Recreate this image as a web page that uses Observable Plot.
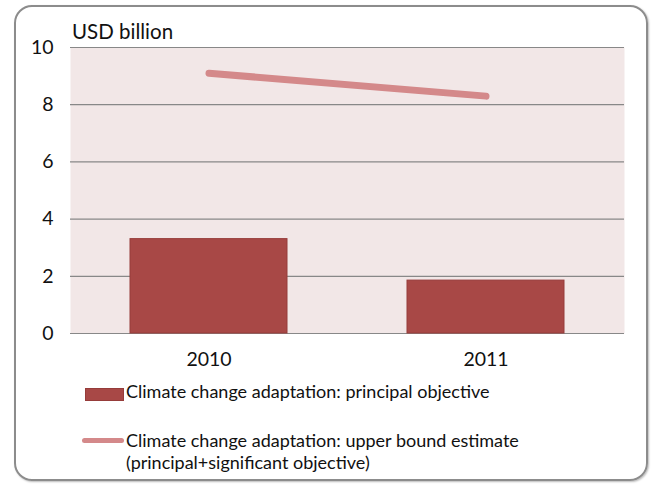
<!DOCTYPE html>
<html><head><meta charset="utf-8">
<script src="https://cdn.jsdelivr.net/npm/d3@7"></script>
<script src="https://cdn.jsdelivr.net/npm/@observablehq/plot@0.6"></script>
<style>
html,body{margin:0;padding:0;background:#fff;}
#wrap{position:relative;width:657px;height:486px;font-family:Lato,"Open Sans",sans-serif;color:#111;}
#frame{position:absolute;left:14px;top:5px;width:634px;height:476px;border:2.5px solid #8c8c8c;border-radius:18px;box-sizing:border-box;box-shadow:1px 1px 2px #bbb;}
#chart{position:absolute;left:0;top:0;}
#unit{position:absolute;left:72px;top:18px;font-size:20.5px;line-height:26px;}
.leg{position:absolute;font-size:18px;line-height:22px;white-space:nowrap;}
.sw{position:absolute;}
</style></head>
<body><div id="wrap"><div id="frame"></div><div id="chart"></div><div id="unit">USD billion</div>
<div class="sw" style="left:85px;top:388px;width:37px;height:11px;background:#a84846;border:1px solid #963c3a;"></div>
<div class="leg" style="left:126px;top:380px;">Climate change adaptation: principal objective</div>
<div class="sw" style="left:82px;top:438px;width:42px;height:5px;background:#d4898a;border-radius:3px;"></div>
<div class="leg" style="left:126px;top:429px;">Climate change adaptation: upper bound estimate<br>(principal+significant objective)</div>
</div>
<script>
const years = ["2010", "2011"];
const principal = [3.3, 1.85];
const upperBound = [9.1, 8.3];
const yTicks = [0, 2, 4, 6, 8, 10];

const bars = years.map((y, i) => ({year: y, value: principal[i]}));
const line = years.map((y, i) => ({year: y, value: upperBound[i]}));

const chart = Plot.plot({
  width: 657, height: 370,
  marginLeft: 70, marginRight: 33, marginTop: 47, marginBottom: 37,
  style: {fontFamily: "Lato, 'Open Sans', sans-serif", fontSize: "19.5px", color: "#111", background: "transparent"},
  x: {domain: years, padding: 0, label: null, tickSize: 0, tickPadding: 19},
  y: {domain: [0, 10], ticks: yTicks, label: null, tickSize: 0, tickPadding: 17},
  marks: [
    Plot.frame({fill: "#f2e7e7", stroke: null}),
    Plot.ruleY(yTicks, {stroke: "#888", strokeWidth: 1.2}),
    Plot.barY(bars, {x: "year", y: "value", fill: "#a84846", stroke: "#963c3a", strokeWidth: 1, insetLeft: 60, insetRight: 60}),
    Plot.lineY(line, {x: "year", y: "value", stroke: "#d4898a", strokeWidth: 7, strokeLinecap: "round"})
  ]
});
document.getElementById("chart").appendChild(chart);
</script></body></html>
